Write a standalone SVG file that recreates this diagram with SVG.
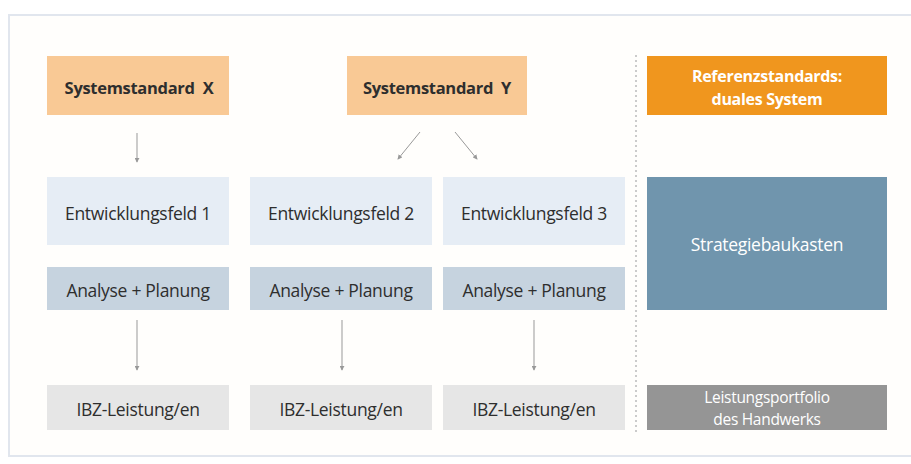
<svg xmlns="http://www.w3.org/2000/svg" width="911" height="464" viewBox="0 0 911 464">
<defs>
<style>
.t{font-family:"Open Sans","Liberation Sans",sans-serif;font-size:17.5px;fill:#2e2e2e;text-anchor:middle;dominant-baseline:central;letter-spacing:-0.3px}
.b{font-weight:bold;font-size:16.5px;white-space:pre}
.w{fill:#fff;font-size:17.5px}
.s{font-size:15.5px}
.c{stroke:#999;stroke-width:1;fill:none;marker-end:url(#ah)}
</style>
<marker id="ah" viewBox="0 0 6 6" refX="5" refY="3" markerWidth="5" markerHeight="5" orient="auto"><path d="M0,0 L6,3 L0,6 z" fill="#999"/></marker>
</defs>
<rect x="0" y="0" width="911" height="464" fill="#fff"/>
<rect x="9" y="15" width="910" height="441" fill="#fffefc" stroke="#e1e6ee" stroke-width="2"/>
<line x1="636" y1="55" x2="636" y2="432" stroke="#bbb" stroke-width="1.5" stroke-dasharray="2,3"/>
<g id="sx"><rect x="47" y="56" width="182" height="59" fill="#f9c995"/><text class="t b" x="139" y="87" xml:space="preserve">Systemstandard  X</text></g>
<g id="sy"><rect x="347" y="56" width="180" height="59" fill="#f9c995"/><text class="t b" x="437" y="87" xml:space="preserve">Systemstandard  Y</text></g>
<g id="ref"><rect x="647" y="56" width="240" height="59" fill="#f0961e"/><text class="t b w" x="767" y="76" style="font-size:16px">Referenzstandards:</text><text class="t b w" x="767" y="99" style="font-size:16px">duales System</text></g>
<g id="e1"><rect x="47" y="177" width="182" height="68" fill="#e6edf5"/><text class="t" x="138" y="213">Entwicklungsfeld 1</text></g>
<g id="e2"><rect x="250" y="177" width="182" height="68" fill="#e6edf5"/><text class="t" x="341" y="213">Entwicklungsfeld 2</text></g>
<g id="e3"><rect x="443" y="177" width="182" height="68" fill="#e6edf5"/><text class="t" x="534" y="213">Entwicklungsfeld 3</text></g>
<g id="a1"><rect x="47" y="267" width="182" height="43" fill="#c6d3df"/><text class="t" x="138" y="290">Analyse + Planung</text></g>
<g id="a2"><rect x="250" y="267" width="182" height="43" fill="#c6d3df"/><text class="t" x="341" y="290">Analyse + Planung</text></g>
<g id="a3"><rect x="443" y="267" width="182" height="43" fill="#c6d3df"/><text class="t" x="534" y="290">Analyse + Planung</text></g>
<g id="sb"><rect x="647" y="177" width="240" height="133" fill="#7095ad"/><text class="t w" x="767" y="244">Strategiebaukasten</text></g>
<g id="i1"><rect x="47" y="385" width="182" height="45" fill="#e6e6e6"/><text class="t" x="138" y="409">IBZ-Leistung/en</text></g>
<g id="i2"><rect x="250" y="385" width="182" height="45" fill="#e6e6e6"/><text class="t" x="341" y="409">IBZ-Leistung/en</text></g>
<g id="i3"><rect x="443" y="385" width="182" height="45" fill="#e6e6e6"/><text class="t" x="534" y="409">IBZ-Leistung/en</text></g>
<g id="lp"><rect x="647" y="385" width="240" height="45" fill="#959595"/><text class="t w s" x="767" y="397">Leistungsportfolio</text><text class="t w s" x="767" y="419">des Handwerks</text></g>
<g id="connectors">
<line class="c" x1="137" y1="133" x2="137" y2="162"/>
<line class="c" x1="420" y1="132" x2="398" y2="159"/>
<line class="c" x1="455" y1="132" x2="477" y2="159"/>
<line class="c" x1="137" y1="320" x2="137" y2="370"/>
<line class="c" x1="342" y1="320" x2="342" y2="370"/>
<line class="c" x1="534" y1="320" x2="534" y2="370"/>
</g>
</svg>
